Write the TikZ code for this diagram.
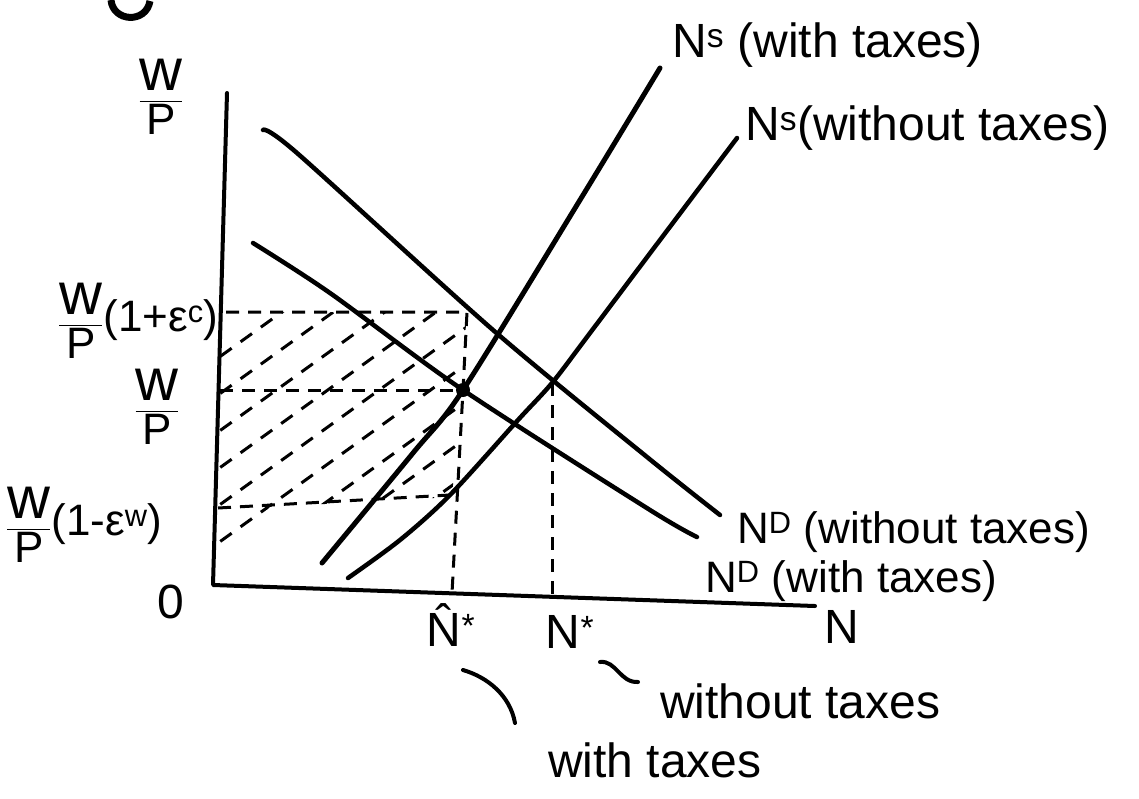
\documentclass[tikz,border=0pt]{standalone}
\usepackage{fontspec}
\usepackage{amsmath}
\usepackage{graphicx}
\setmainfont{Liberation Sans}
\newcommand{\wfrac}{$\dfrac{\text{\scalebox{1.35}{w}}}{\text{P}}$}
\begin{document}
\begin{tikzpicture}[x=1pt,y=-1pt,
  lbl/.style={font=\fontsize{48}{52}\selectfont, inner sep=0pt},
  leftlbl/.style={font=\fontsize{44}{48}\selectfont, inner sep=0pt},
  axisline/.style={line width=4pt, line cap=round, line join=round},
  curve/.style={line width=4.5pt, line cap=round},
  guide/.style={line width=3pt, dash pattern=on 13pt off 9pt},
  hatchline/.style={line width=3pt, dash pattern=on 14pt off 11pt},
  pen/.style={line width=4pt, line cap=round}
]
\useasboundingbox (0,0) rectangle (1139,798);
\fill[white] (0,0) rectangle (1139,798);

% axes
\coordinate (O) at (213,585);
\coordinate (Ytop) at (227,93);
\coordinate (Xend) at (815,606);
\draw[axisline] (Ytop) -- (O) -- (Xend);

% guide points
\coordinate (tL) at (226,312);
\coordinate (tR) at (467,312);
\coordinate (mL) at (220,390);
\coordinate (E1) at (463,390);
\coordinate (lL) at (218,508);
\coordinate (lR) at (450,495);
\coordinate (hatB) at (452,593);
\coordinate (E0) at (552,383);
\coordinate (starB) at (552,597);

% hatching
\begin{scope}
\clip (218,312) -- (467,312) -- (452,497) -- (270,507) -- (218,556) -- cycle;
\foreach \yy in {358,395,...,691}
  \draw[hatchline] (200,{\yy+13}) -- (500,{\yy-203});
\end{scope}

% dashed guides
\draw[guide] (tL) -- (tR) -- (E1) -- (hatB);
\draw[guide] (mL) -- (E1);
\draw[guide] (lL) -- (lR);
\draw[guide] (E0) -- (starB);

% N^D without taxes
\draw[curve] plot[smooth] coordinates {(263,130) (297,153) (493,330) (647,457) (720,515)};
% N^D with taxes
\draw[curve] plot[smooth] coordinates {(253,243) (330,293) (463,390) (650,510) (697,537)};
% N^S with taxes
\draw[curve, line width=5pt] plot[smooth] coordinates {(322,563) (413,453) (463,390) (580,200) (660,68)};
% N^S without taxes
\draw[curve] plot[smooth] coordinates {(348,578) (400,540) (450,495) (518,420) (552,383) (587,337) (660,240) (737,138)};

\fill (E1) circle[radius=7pt];

% curve labels
\node[lbl, anchor=base west] (lNSw) at (672,57) {N\textsuperscript{s} (with taxes)};
\node[lbl, anchor=base west] (lNSo) at (745,140) {N\textsuperscript{s}(without taxes)};
\node[lbl, anchor=base west, font=\fontsize{44}{48}\selectfont] (lNDo) at (737,543) {N\textsuperscript{D} (without taxes)};
\node[lbl, anchor=base west, font=\fontsize{44}{48}\selectfont] (lNDw) at (705,592) {N\textsuperscript{D} (with taxes)};

% axis labels
\node[leftlbl] (yl) at (161,97) {\wfrac};
\node[leftlbl, anchor=west] (yc) at (58,321) {\wfrac(1+ε\textsuperscript{c})};
\node[leftlbl] (ym) at (157,407) {\wfrac};
\node[leftlbl, anchor=west] (yw) at (6,525) {\wfrac(1-ε\textsuperscript{w})};
\node[lbl] (zero) at (171,602) {0};
\node[lbl] (nhat) at (451,625) {\^{N}\textsuperscript{*}};
\node[lbl] (nstar) at (570,632) {N\textsuperscript{*}};
\node[lbl] (nax) at (842,627) {N};

% annotations
\node[lbl, anchor=base west] (wo) at (660,718) {without taxes};
\node[lbl, anchor=base west] (wi) at (548,777) {with taxes};
\coordinate (hk1) at (463,670);
\coordinate (hk2) at (515,723);
\draw[pen] (hk1) .. controls (487,677) and (510,695) .. (hk2);
\coordinate (tl1) at (600,662);
\coordinate (tl2) at (638,682);
\draw[pen] (tl1) .. controls (616,660) and (620,683) .. (tl2);
\coordinate (arcA) at (111,0);
\coordinate (arcB) at (150,1);
\draw[line width=7pt] (arcA) .. controls (113,22) and (146,24) .. (arcB);
\end{tikzpicture}
\end{document}
